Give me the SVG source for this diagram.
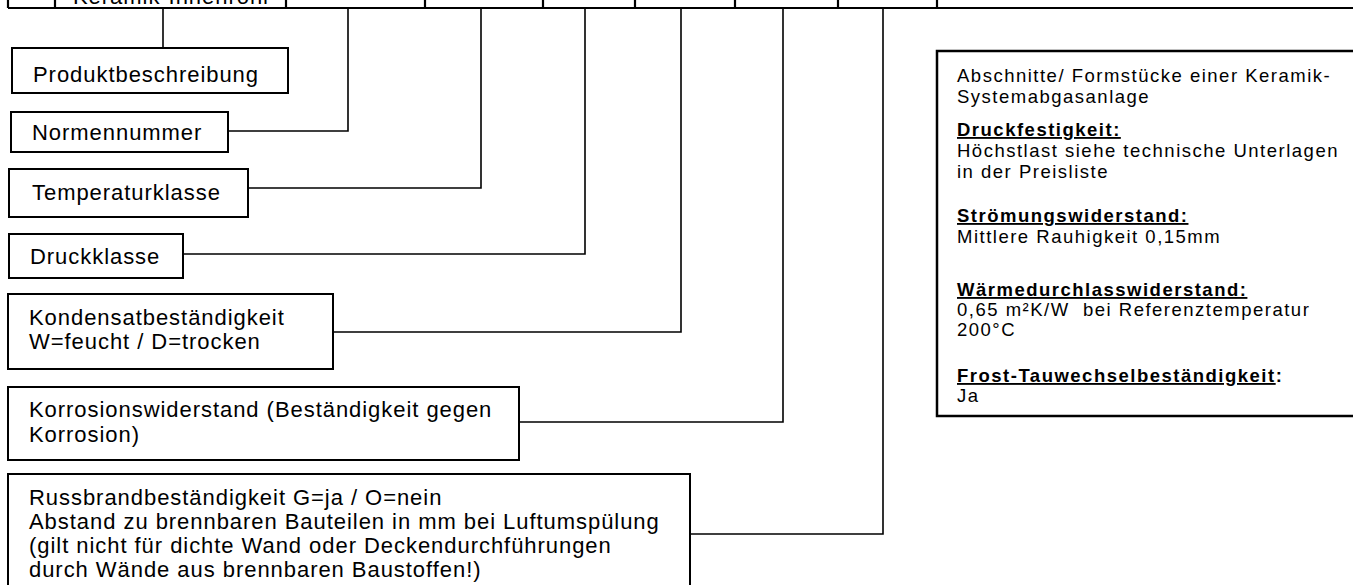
<svg xmlns="http://www.w3.org/2000/svg" width="1353" height="585" viewBox="0 0 1353 585">
<style>
.bx{fill:#fff;stroke:#000;stroke-width:2}
.cn{fill:none;stroke:#000;stroke-width:1.6}
.tb{fill:none;stroke:#000;stroke-width:2.2}
.lt{font-family:"Liberation Sans",Arial,sans-serif;font-size:22px;letter-spacing:0.95px;fill:#000}
.rt{font-family:"Liberation Sans",Arial,sans-serif;font-size:18.5px;letter-spacing:1.5px;fill:#000}
.hd{font-weight:bold;text-decoration:underline}
</style>
<rect width="1353" height="585" fill="#fff"/>
<g id="table">
<path class="tb" d="M8,8 H1353 M8,0 V8 M55,0 V8 M286,0 V8 M425,0 V8 M543,0 V8 M635,0 V8 M735,0 V8 M838,0 V8 M937,0 V8"/>
<text class="lt" x="73" y="4">Keramik-Innenrohr</text>
</g>
<g id="connectors">
<path class="cn" d="M163,8 V48"/>
<path class="cn" d="M348,8 V131 H228"/>
<path class="cn" d="M481,8 V188 H248"/>
<path class="cn" d="M585,8 V254 H183"/>
<path class="cn" d="M681,8 V332 H333"/>
<path class="cn" d="M783,8 V422 H519"/>
<path class="cn" d="M883,8 V534 H690"/>
</g>
<g id="produktbeschreibung">
<rect class="bx" x="12" y="48" width="276" height="45"/>
<text class="lt" x="33" y="82">Produktbeschreibung</text>
</g>
<g id="normennummer">
<rect class="bx" x="11" y="112" width="217" height="40"/>
<text class="lt" x="32" y="140">Normennummer</text>
</g>
<g id="temperaturklasse">
<rect class="bx" x="9" y="169" width="239" height="48"/>
<text class="lt" x="32" y="200">Temperaturklasse</text>
</g>
<g id="druckklasse">
<rect class="bx" x="9" y="234" width="174" height="44"/>
<text class="lt" x="30" y="264">Druckklasse</text>
</g>
<g id="kondensat">
<rect class="bx" x="8" y="294" width="325" height="75"/>
<text class="lt" x="29" y="325">Kondensatbeständigkeit</text>
<text class="lt" x="29" y="349">W=feucht / D=trocken</text>
</g>
<g id="korrosion">
<rect class="bx" x="8" y="387" width="511" height="73"/>
<text class="lt" x="29" y="417">Korrosionswiderstand (Beständigkeit gegen</text>
<text class="lt" x="29" y="442">Korrosion)</text>
</g>
<g id="russbrand">
<rect class="bx" x="8" y="474" width="682" height="125"/>
<text class="lt" x="29" y="505">Russbrandbeständigkeit G=ja / O=nein</text>
<text class="lt" x="29" y="529">Abstand zu brennbaren Bauteilen in mm bei Luftumspülung</text>
<text class="lt" x="29" y="553">(gilt nicht für dichte Wand oder Deckendurchführungen</text>
<text class="lt" x="29" y="577">durch Wände aus brennbaren Baustoffen!)</text>
</g>
<g id="eigenschaften">
<rect x="937" y="51" width="430" height="365" fill="#fff" stroke="#000" stroke-width="2.5"/>
<text class="rt" x="957" y="82">Abschnitte/ Formstücke einer Keramik-</text>
<text class="rt" x="957" y="103">Systemabgasanlage</text>
<text class="rt hd" x="957" y="136">Druckfestigkeit:</text>
<text class="rt" x="957" y="157">Höchstlast siehe technische Unterlagen</text>
<text class="rt" x="957" y="178">in der Preisliste</text>
<text class="rt hd" x="957" y="222">Strömungswiderstand:</text>
<text class="rt" x="957" y="243">Mittlere Rauhigkeit 0,15mm</text>
<text class="rt hd" x="957" y="296">Wärmedurchlasswiderstand:</text>
<text class="rt" x="957" y="316" xml:space="preserve">0,65 m²K/W  bei Referenztemperatur</text>
<text class="rt" x="957" y="336">200°C</text>
<text class="rt" x="957" y="382"><tspan class="hd">Frost-Tauwechselbeständigkeit</tspan><tspan font-weight="bold">:</tspan></text>
<text class="rt" x="957" y="402">Ja</text>
</g>
</svg>
